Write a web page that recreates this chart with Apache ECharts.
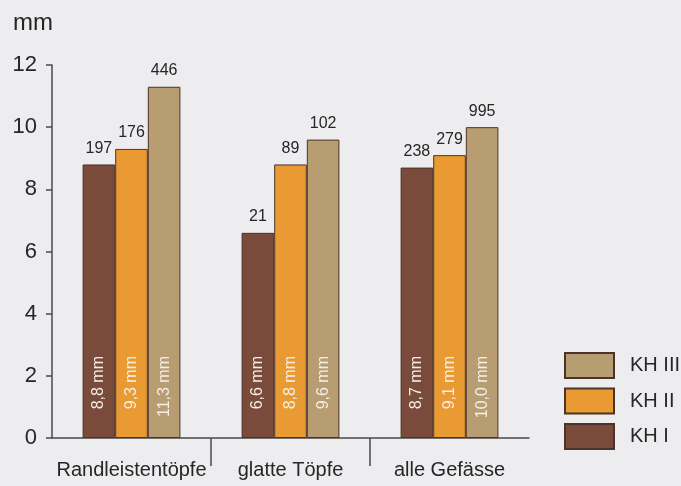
<!DOCTYPE html>
<html>
<head>
<meta charset="utf-8">
<script src="https://cdn.jsdelivr.net/npm/echarts@6/dist/echarts.min.js"></script>
<style>
  html, body { margin: 0; padding: 0; background: #ededf0; }
  #chart { width: 681px; height: 486px; }
</style>
</head>
<body>
<div id="chart"></div>
<script>
// Mean rim thickness (mm) per vessel group and phase, with sample counts
const categories = ['Randleistentöpfe', 'glatte Töpfe', 'alle Gefässe'];
const seriesNames = ['KH I', 'KH II', 'KH III'];
const khI = [8.8, 6.6, 8.7];
const khII = [9.3, 8.8, 9.1];
const khIII = [11.3, 9.6, 10.0];
const countI = [197, 21, 238];
const countII = [176, 89, 279];
const countIII = [446, 102, 995];
const yTicks = [0, 2, 4, 6, 8, 10, 12];

const colors = ['#7a4a3b', '#e99a32', '#b89c72'];
const FONT = '"Liberation Sans", Arial, sans-serif';
const TEXT = '#262626';
const AXIS = '#4a4a4a';
const BAR_LAYOUT = { barGap: '0%', barCategoryGap: '38.5%' };

// Coloured bar with its value in mm written upright inside
function valueBar(name, values, color) {
  return Object.assign({
    name: name,
    type: 'bar',
    stack: name,
    data: values,
    itemStyle: { color: color, borderColor: '#4a3329', borderWidth: 1 },
    label: {
      show: true,
      position: 'insideBottom',
      distance: 82,
      rotate: 90,
      align: 'right',
      verticalAlign: 'middle',
      color: '#f4efe6',
      fontSize: 16,
      fontFamily: FONT,
      formatter: p => p.value.toFixed(1).replace('.', ',') + ' mm'
    },
    emphasis: { disabled: true }
  }, BAR_LAYOUT);
}

// Zero-height cap stacked on each bar, carrying the sample count above it
function countCap(name, counts) {
  return Object.assign({
    name: name + ' n',
    type: 'bar',
    stack: name,
    data: counts.map(() => 0),
    itemStyle: { color: 'rgba(0,0,0,0)', borderWidth: 0 },
    label: {
      show: true,
      position: 'top',
      distance: 8,
      color: TEXT,
      fontSize: 16,
      fontFamily: FONT,
      formatter: p => String(counts[p.dataIndex])
    },
    silent: true,
    emphasis: { disabled: true }
  }, BAR_LAYOUT);
}

const chart = echarts.init(document.getElementById('chart'));
chart.setOption({
  backgroundColor: '#ededf0',
  animation: false,
  title: {
    text: 'mm',
    left: 8,
    top: 6,
    textStyle: { fontSize: 24, fontWeight: 'normal', color: TEXT, fontFamily: FONT }
  },
  legend: {
    orient: 'vertical',
    left: 559,
    top: 347,
    itemWidth: 49,
    itemHeight: 25,
    itemGap: 8.5,
    icon: 'rect',
    data: ['KH III', 'KH II', 'KH I'],
    textStyle: { fontSize: 20, color: TEXT, fontFamily: FONT, padding: [0, 0, 0, 11] },
    selectedMode: false
  },
  grid: { left: 52, right: 152, top: 65, bottom: 48, containLabel: false },
  xAxis: [
    {
      type: 'category',
      data: categories,
      axisLine: { lineStyle: { color: AXIS, width: 1.5 } },
      axisTick: { show: false },
      axisLabel: { interval: 0, fontSize: 20, color: TEXT, fontFamily: FONT, margin: 22 }
    },
    {
      // separators between the vessel groups
      type: 'value',
      min: 0,
      max: 3,
      interval: 1,
      position: 'bottom',
      axisLine: { show: false },
      axisLabel: { show: false },
      splitLine: { show: false },
      axisTick: {
        show: true,
        length: 28,
        customValues: [1, 2],
        lineStyle: { color: AXIS, width: 1.5 }
      }
    }
  ],
  yAxis: {
    type: 'value',
    min: yTicks[0],
    max: yTicks[yTicks.length - 1],
    interval: 2,
    axisLine: { show: true, lineStyle: { color: AXIS, width: 1.5 } },
    axisTick: { show: true, length: 6, lineStyle: { color: AXIS, width: 1.5 } },
    splitLine: { show: false },
    axisLabel: { fontSize: 22, color: TEXT, fontFamily: FONT, margin: 15 }
  },
  series: [
    valueBar(seriesNames[0], khI, colors[0]),
    countCap(seriesNames[0], countI),
    valueBar(seriesNames[1], khII, colors[1]),
    countCap(seriesNames[1], countII),
    valueBar(seriesNames[2], khIII, colors[2]),
    countCap(seriesNames[2], countIII)
  ]
});
</script>
</body>
</html>
